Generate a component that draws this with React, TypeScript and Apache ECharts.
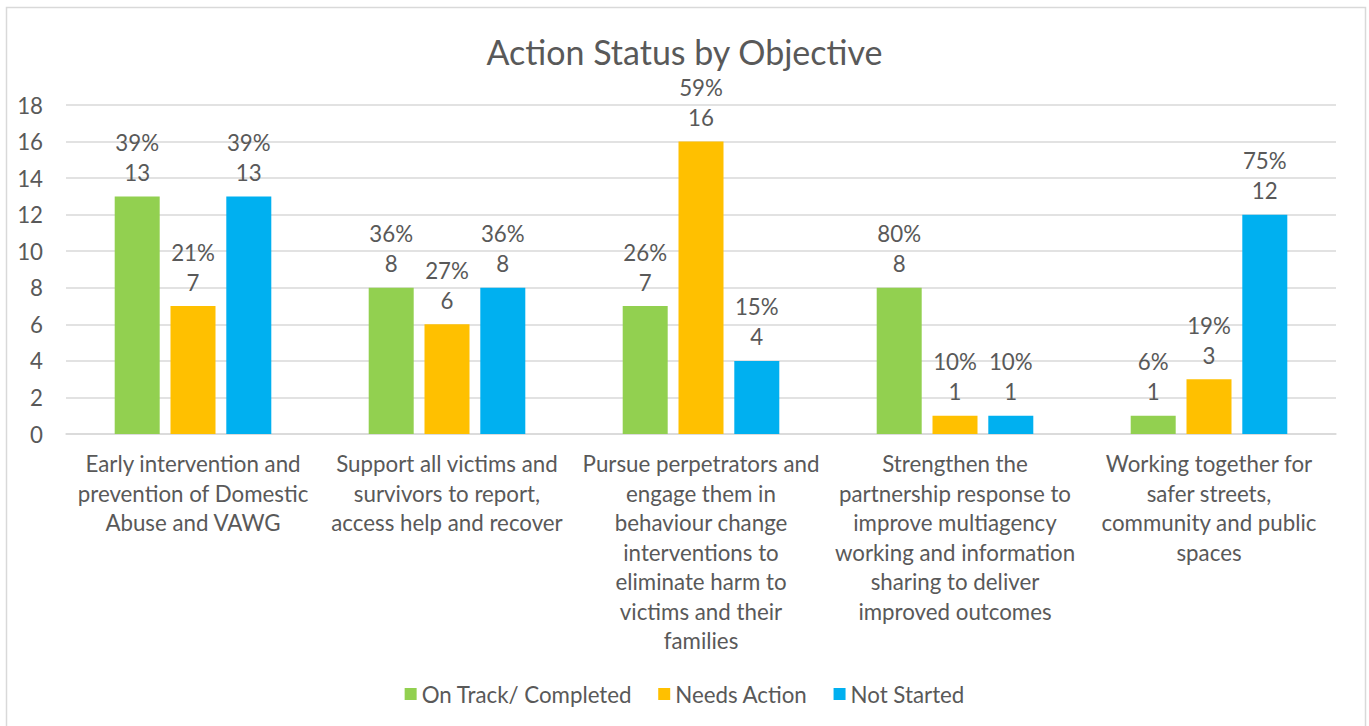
import React, { useEffect, useRef } from "react";
import * as echarts from "echarts";

const categories = [
  "Early intervention and\nprevention of Domestic\nAbuse and VAWG",
  "Support all victims and\nsurvivors to report,\naccess help and recover",
  "Pursue perpetrators and\nengage them in\nbehaviour change\ninterventions to\neliminate harm to\nvictims and their\nfamilies",
  "Strengthen the\npartnership response to\nimprove multiagency\nworking and information\nsharing to deliver\nimproved outcomes",
  "Working together for\nsafer streets,\ncommunity and public\nspaces",
];
const onTrack = [13, 8, 7, 8, 1];
const needsAction = [7, 6, 16, 1, 3];
const notStarted = [13, 8, 4, 1, 12];
const onTrackPct = ["39%", "36%", "26%", "80%", "6%"];
const needsActionPct = ["21%", "27%", "59%", "10%", "19%"];
const notStartedPct = ["39%", "36%", "15%", "10%", "75%"];
const yTicks = { min: 0, max: 18, interval: 2 };

const FONT = "Lato, 'Noto Sans', sans-serif";
const TXT = "#595959";
const FS = 22.3;

function makeSeries(name: string, data: number[], pct: string[], color: string) {
  return {
    name,
    type: "bar",
    data,
    barWidth: 45,
    barGap: "24%",
    itemStyle: { color },
    label: {
      show: true,
      position: "top",
      distance: 9,
      color: TXT,
      fontFamily: FONT,
      fontSize: FS,
      lineHeight: 30,
      formatter: (p: any) => `${pct[p.dataIndex]}\n${p.value}`,
    },
  };
}

export default function App() {
  const ref = useRef<HTMLDivElement>(null);
  useEffect(() => {
    document.body.style.margin = "0";
    const chart = echarts.init(ref.current!, null, { renderer: "svg" });
    chart.setOption({
      animation: false,
      backgroundColor: "#ffffff",
      textStyle: { fontFamily: FONT },
      title: {
        text: "Action Status by Objective",
        left: "center",
        top: 29,
        textStyle: { color: TXT, fontFamily: FONT, fontSize: 34, fontWeight: "normal" },
      },
      legend: {
        bottom: 16,
        left: "center",
        icon: "rect",
        itemWidth: 12,
        itemHeight: 12,
        itemGap: 26,
        itemTextGap: 6,
        textStyle: { color: TXT, fontFamily: FONT, fontSize: FS },
        data: ["On Track/ Completed", "Needs Action", "Not Started"],
      },
      graphic: [
        {
          type: "rect",
          shape: { x: 6.5, y: 7.5, width: 1359, height: 740 },
          style: { fill: "none", stroke: "#d9d9d9", lineWidth: 1.5 },
          silent: true,
        },
      ],
      grid: { left: 66, right: 33, top: 105, bottom: 292, containLabel: false },
      xAxis: {
        type: "category",
        data: categories,
        axisLine: { lineStyle: { color: "#d9d9d9", width: 1.5 } },
        axisTick: { show: false },
        axisLabel: {
          color: TXT,
          fontFamily: FONT,
          fontSize: FS,
          lineHeight: 29.5,
          margin: 15,
          interval: 0,
          align: "center",
        },
      },
      yAxis: {
        type: "value",
        min: yTicks.min,
        max: yTicks.max,
        interval: yTicks.interval,
        axisLine: { show: false },
        axisTick: { show: false },
        splitLine: { lineStyle: { color: "#d9d9d9", width: 1.5 } },
        axisLabel: { color: TXT, fontFamily: FONT, fontSize: FS, margin: 23 },
      },
      series: [
        makeSeries("On Track/ Completed", onTrack, onTrackPct, "#92D050"),
        makeSeries("Needs Action", needsAction, needsActionPct, "#FFC000"),
        makeSeries("Not Started", notStarted, notStartedPct, "#00B0F0"),
      ],
    });
    return () => chart.dispose();
  }, []);
  return (
    <div
      ref={ref}
      style={{ position: "absolute", left: 0, top: 0, width: 1369, height: 726 }}
    />
  );
}
